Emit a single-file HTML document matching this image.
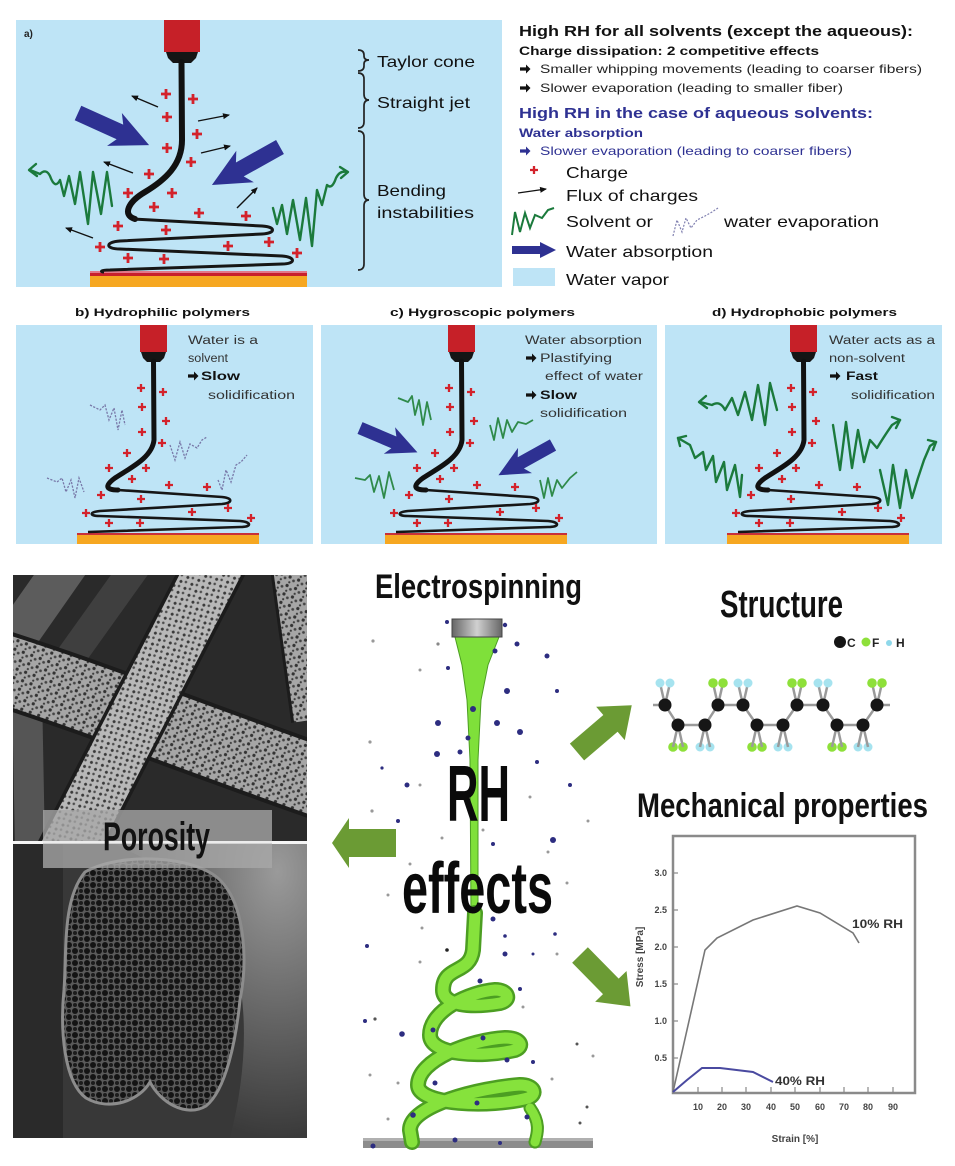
<!DOCTYPE html>
<html><head><meta charset="utf-8"><style>
html,body{margin:0;padding:0;background:#fff;}
svg{display:block;}
text{font-family:"Liberation Sans","DejaVu Sans",sans-serif;}
</style></head><body>
<svg width="955" height="1166" viewBox="0 0 955 1166" xmlns="http://www.w3.org/2000/svg">
<defs>
 <path id="pl" d="M-5,0H5M0,-5V5" stroke="#d3222b" stroke-width="2.8"/>
 <path id="pls" d="M-4,0H4M0,-4V4" stroke="#d3222b" stroke-width="2.3"/>
 <marker id="ah" markerWidth="9" markerHeight="9" refX="6" refY="4" orient="auto" markerUnits="userSpaceOnUse"><path d="M0,1 L7,4 L0,7 Z" fill="#111"/></marker>
 <path id="ra" d="M0,-1.6H6V-4.5L10.5,0L6,4.5V1.6H0Z"/>
 <polygon id="bigarrow" points="0,-8 46,-8 40,-18 78,0 40,18 46,8 0,8" fill="#2e3192"/>
 <polygon id="garrow" points="0,-11 44,-11 44,-22 72,0 44,22 44,11 0,11" fill="#6b9b34"/>
 <pattern id="pores" width="9" height="9" patternUnits="userSpaceOnUse" patternTransform="rotate(20)">
  <rect width="9" height="9" fill="#a6a6a6"/>
  <circle cx="2" cy="2" r="1.6" fill="#333"/>
  <circle cx="6.5" cy="4.5" r="1.4" fill="#444"/>
  <circle cx="3" cy="7.2" r="1.1" fill="#3a3a3a"/>
 </pattern>
 <pattern id="pores2" width="8" height="8" patternUnits="userSpaceOnUse" patternTransform="rotate(-30)">
  <rect width="8" height="8" fill="#b8b8b8"/>
  <circle cx="2" cy="2" r="1.5" fill="#3a3a3a"/>
  <circle cx="6" cy="5" r="1.3" fill="#4c4c4c"/>
 </pattern>
 <pattern id="mesh" width="12" height="12" patternUnits="userSpaceOnUse">
  <rect width="12" height="12" fill="#5a5a5a"/>
  <circle cx="3" cy="3" r="3" fill="#141414"/>
  <circle cx="9" cy="9" r="3" fill="#141414"/>
  <circle cx="9" cy="3" r="2" fill="#1c1c1c"/>
  <circle cx="3" cy="9" r="2" fill="#1c1c1c"/>
 </pattern>
 <linearGradient id="noz" x1="0" x2="1" y1="0" y2="0">
  <stop offset="0" stop-color="#666"/><stop offset=".5" stop-color="#d0d0d0"/><stop offset="1" stop-color="#666"/>
 </linearGradient>
 <radialGradient id="body" cx="0.85" cy="0.1" r="0.9">
  <stop offset="0" stop-color="#9a9a9a"/><stop offset=".5" stop-color="#6a6a6a"/><stop offset="1" stop-color="#3a3a3a"/>
 </radialGradient>
 <clipPath id="semT"><rect x="13" y="575" width="294" height="267"/></clipPath>
 <clipPath id="semB"><rect x="13" y="842" width="294" height="296"/></clipPath>
</defs>

<rect width="955" height="1166" fill="#fff"/>

<!-- ================= PANEL A ================= -->
<rect x="16" y="20" width="486" height="267" fill="#bee4f6"/>
<text x="24" y="37" font-size="10" font-weight="bold" fill="#222">a)</text>
<rect x="90" y="271" width="217" height="2" fill="#e2788a"/>
<rect x="90" y="273" width="217" height="3" fill="#c8202c"/>
<rect x="90" y="276" width="217" height="11" fill="#f6a721"/>
<rect x="164" y="20" width="36" height="32" fill="#c62028"/>
<polygon points="166,52 198,52 196,58 191,63 173,63 168,58" fill="#151515"/>
<path d="M181.5,62 L182,140 C182,165 165,180 145,192 C128,202 122,215 135,219" stroke="#111" stroke-width="6" fill="none" stroke-linecap="round"/>
<path d="M133,219 L262,226 C276,227 276,233 262,234 L120,241 C105,242 105,249 120,249 L282,256 C296,257 296,264 282,264 L110,270 C100,270 100,272 104,272" stroke="#161616" stroke-width="3" fill="none"/>
<g>
<use href="#pl" x="166" y="94"/><use href="#pl" x="193" y="99"/><use href="#pl" x="167" y="117"/>
<use href="#pl" x="197" y="134"/><use href="#pl" x="167" y="148"/><use href="#pl" x="191" y="162"/>
<use href="#pl" x="149" y="174"/><use href="#pl" x="172" y="193"/><use href="#pl" x="128" y="193"/>
<use href="#pl" x="154" y="207"/><use href="#pl" x="199" y="213"/><use href="#pl" x="246" y="216"/>
<use href="#pl" x="118" y="226"/><use href="#pl" x="166" y="230"/><use href="#pl" x="269" y="242"/>
<use href="#pl" x="228" y="246"/><use href="#pl" x="100" y="247"/><use href="#pl" x="128" y="258"/>
<use href="#pl" x="164" y="259"/><use href="#pl" x="297" y="253"/>
</g>
<g stroke="#111" stroke-width="1.4" marker-end="url(#ah)">
<line x1="158" y1="107" x2="132" y2="96"/>
<line x1="198" y1="121" x2="229" y2="115"/>
<line x1="201" y1="153" x2="230" y2="146"/>
<line x1="133" y1="173" x2="104" y2="162"/>
<line x1="237" y1="208" x2="257" y2="188"/>
<line x1="93" y1="238" x2="66" y2="228"/>
</g>
<use href="#bigarrow" transform="translate(78,113) rotate(24.3)"/>
<use href="#bigarrow" transform="translate(280,147) rotate(150.8)"/>
<g stroke="#1b7a3c" stroke-width="2.4" fill="none" stroke-linejoin="round" stroke-linecap="round">
<path d="M30,170 L40,174 Q46,168 50,176 Q55,190 60,180 L64,196 L69,176 L75,204 L80,172 L88,224 L93,172 L101,214 L107,172 L112,206"/>
<path d="M36,164 L29,170 L37,176"/>
<path d="M347,172 Q340,170 336,178 Q332,190 327,185 L322,205 L317,190 L312,246 L306,198 L300,240 L293,200 L287,234 L282,205 L277,224 L273,208"/>
<path d="M340,167 L348,172 L341,178"/>
</g>
<g stroke="#222" stroke-width="1.7" fill="none">
<path d="M358,50 Q364,50 364,55 L364,56 Q364,60 369,60 Q364,60 364,64 L364,66 Q364,71 358,71"/>
<path d="M358,73 Q364,73 364,79 L364,94 Q364,100 369,100 Q364,100 364,106 L364,122 Q364,128 358,128"/>
<path d="M358,131 Q364,131 364,137 L364,194 Q364,200 369,200 Q364,200 364,206 L364,264 Q364,270 358,270"/>
</g>
<g font-size="16" fill="#111">
<text x="377" y="67" textLength="98" lengthAdjust="spacingAndGlyphs">Taylor cone</text>
<text x="377" y="108" textLength="93" lengthAdjust="spacingAndGlyphs">Straight jet</text>
<text x="377" y="196" textLength="69" lengthAdjust="spacingAndGlyphs">Bending</text>
<text x="377" y="218" textLength="97" lengthAdjust="spacingAndGlyphs">instabilities</text>
</g>

<!-- ================= TOP RIGHT TEXT ================= -->
<text x="519" y="36" font-size="15" font-weight="bold" fill="#111" textLength="394" lengthAdjust="spacingAndGlyphs">High RH for all solvents (except the aqueous):</text>
<text x="519" y="55" font-size="12" font-weight="bold" fill="#111" textLength="300" lengthAdjust="spacingAndGlyphs">Charge dissipation: 2 competitive effects</text>
<use href="#ra" transform="translate(520,69)" fill="#111"/>
<text x="540" y="73" font-size="12" fill="#222" textLength="382" lengthAdjust="spacingAndGlyphs">Smaller whipping movements (leading to coarser fibers)</text>
<use href="#ra" transform="translate(520,88)" fill="#111"/>
<text x="540" y="92" font-size="12" fill="#222" textLength="303" lengthAdjust="spacingAndGlyphs">Slower evaporation (leading to smaller fiber)</text>
<text x="519" y="118" font-size="15" font-weight="bold" fill="#2e3192" textLength="354" lengthAdjust="spacingAndGlyphs">High RH in the case of aqueous solvents:</text>
<text x="519" y="137" font-size="12" font-weight="bold" fill="#2e3192" textLength="124" lengthAdjust="spacingAndGlyphs">Water absorption</text>
<use href="#ra" transform="translate(520,151)" fill="#2e3192"/>
<text x="540" y="155" font-size="12" fill="#2e3192" textLength="312" lengthAdjust="spacingAndGlyphs">Slower evaporation (leading to coarser fibers)</text>
<use href="#pls" x="534" y="170"/>
<line x1="518" y1="193" x2="546" y2="189" stroke="#111" stroke-width="1.3" marker-end="url(#ah)"/>
<path d="M512,235 L515,212 L520,232 L525,213 L530,228 L535,215 L542,218 L548,210 L554,208" stroke="#1b7a3c" stroke-width="2" fill="none"/>
<path d="M673,236 L677,220 L682,232 L686,218 L691,228 L697,220 L705,216 L712,212 L718,208" stroke="#8080b0" stroke-width="1.2" stroke-dasharray="2 1.5" fill="none"/>
<polygon points="512,246 540,246 540,242 556,250 540,258 540,254 512,254" fill="#2e3192"/>
<rect x="513" y="268" width="42" height="18" fill="#bee4f6"/>
<g font-size="16" fill="#111">
<text x="566" y="178" textLength="62" lengthAdjust="spacingAndGlyphs">Charge</text>
<text x="566" y="201" textLength="132" lengthAdjust="spacingAndGlyphs">Flux of charges</text>
<text x="566" y="227" textLength="87" lengthAdjust="spacingAndGlyphs">Solvent or</text>
<text x="724" y="227" textLength="155" lengthAdjust="spacingAndGlyphs">water evaporation</text>
<text x="566" y="257" textLength="147" lengthAdjust="spacingAndGlyphs">Water absorption</text>
<text x="566" y="285" textLength="103" lengthAdjust="spacingAndGlyphs">Water vapor</text>
</g>

<!-- ================= PANELS B C D ================= -->
<g font-size="11" font-weight="bold" fill="#111">
<text x="75" y="316" textLength="175" lengthAdjust="spacingAndGlyphs">b) Hydrophilic polymers</text>
<text x="390" y="316" textLength="185" lengthAdjust="spacingAndGlyphs">c) Hygroscopic polymers</text>
<text x="712" y="316" textLength="185" lengthAdjust="spacingAndGlyphs">d) Hydrophobic polymers</text>
</g>
<rect x="16" y="325" width="297" height="219" fill="#bee4f6"/>
<rect x="321" y="325" width="336" height="219" fill="#bee4f6"/>
<rect x="665" y="325" width="277" height="219" fill="#bee4f6"/>

<g id="jetb">
<rect x="77" y="533" width="182" height="2" fill="#c8303a"/>
<rect x="77" y="535" width="182" height="9" fill="#f6a721"/>
<rect x="140" y="325" width="27" height="27" fill="#c62028"/>
<polygon points="141,352 166,352 164,358 160,362 147,362 143,358" fill="#151515"/>
<path d="M153.5,361 L154,440 C152,458 130,468 115,478 C104,486 106,490 118,490" stroke="#111" stroke-width="5" fill="none" stroke-linecap="round"/>
<path d="M118,490 L222,497 C233,498 233,503 222,504 L100,511 C89,512 89,516 100,516 L240,521 C252,522 252,527 240,527 L88,532" stroke="#161616" stroke-width="2.6" fill="none"/>
<use href="#pls" x="141" y="388"/><use href="#pls" x="163" y="392"/><use href="#pls" x="142" y="407"/>
<use href="#pls" x="166" y="421"/><use href="#pls" x="142" y="432"/><use href="#pls" x="162" y="443"/>
<use href="#pls" x="127" y="453"/><use href="#pls" x="109" y="468"/><use href="#pls" x="146" y="468"/>
<use href="#pls" x="132" y="479"/><use href="#pls" x="169" y="485"/><use href="#pls" x="207" y="487"/>
<use href="#pls" x="101" y="495"/><use href="#pls" x="141" y="499"/><use href="#pls" x="228" y="508"/>
<use href="#pls" x="192" y="512"/><use href="#pls" x="86" y="513"/><use href="#pls" x="109" y="523"/>
<use href="#pls" x="140" y="523"/><use href="#pls" x="251" y="518"/>
</g>
<use href="#jetb" transform="translate(308,0)"/>
<use href="#jetb" transform="translate(650,0)"/>

<g stroke="#7878a8" stroke-width="1.3" fill="none" stroke-dasharray="2.2 1.4">
<path d="M90,405 L100,410 L105,405 L109,420 L114,408 L118,430 L122,410 L125,425"/>
<path d="M170,445 L175,460 L180,442 L185,458 L190,444 L197,448 L202,440 L207,437"/>
<path d="M47,478 L57,482 L62,478 L66,492 L71,480 L75,498 L79,478 L84,492"/>
<path d="M218,480 L222,490 L226,470 L231,482 L236,465 L241,462 L247,455"/>
</g>
<g fill="#111">
<g font-size="11.5" fill="#333">
<text x="188" y="344" textLength="70" lengthAdjust="spacingAndGlyphs">Water is a</text>
<text x="188" y="362" textLength="40" lengthAdjust="spacingAndGlyphs">solvent</text>
<text x="201" y="380" textLength="39" lengthAdjust="spacingAndGlyphs" font-weight="bold" fill="#111">Slow</text>
<text x="208" y="399" textLength="87" lengthAdjust="spacingAndGlyphs">solidification</text>
<text x="525" y="344" textLength="117" lengthAdjust="spacingAndGlyphs">Water absorption</text>
<text x="540" y="362" textLength="72" lengthAdjust="spacingAndGlyphs">Plastifying</text>
<text x="545" y="380" textLength="98" lengthAdjust="spacingAndGlyphs">effect of water</text>
<text x="540" y="399" textLength="37" lengthAdjust="spacingAndGlyphs" font-weight="bold" fill="#111">Slow</text>
<text x="540" y="417" textLength="87" lengthAdjust="spacingAndGlyphs">solidification</text>
<text x="829" y="344" textLength="106" lengthAdjust="spacingAndGlyphs">Water acts as a</text>
<text x="829" y="362" textLength="76" lengthAdjust="spacingAndGlyphs">non-solvent</text>
<text x="846" y="380" textLength="32" lengthAdjust="spacingAndGlyphs" font-weight="bold" fill="#111">Fast</text>
<text x="851" y="399" textLength="84" lengthAdjust="spacingAndGlyphs">solidification</text>
</g>
<use href="#ra" transform="translate(188,376)"/>
<use href="#ra" transform="translate(526,358)"/>
<use href="#ra" transform="translate(526,395)"/>
<use href="#ra" transform="translate(830,376)"/>
</g>
<use href="#bigarrow" transform="translate(360,428) rotate(23) scale(.8)"/>
<use href="#bigarrow" transform="translate(553,445) rotate(151) scale(.8)"/>
<g stroke="#2f8a4a" stroke-width="1.8" fill="none" stroke-linejoin="round">
<path d="M398,398 L408,402 L412,396 L415,415 L419,400 L423,425 L427,402 L431,420"/>
<path d="M355,478 L365,480 L370,475 L374,492 L379,476 L384,498 L389,472 L394,490"/>
<path d="M490,425 L494,440 L498,418 L503,438 L507,420 L512,432 L518,422 L526,424 L533,420"/>
<path d="M540,480 L544,498 L548,478 L552,496 L557,480 L562,488 L570,478 L577,472"/>
</g>
<g stroke="#1b7a3c" stroke-width="2.4" fill="none" stroke-linejoin="round" stroke-linecap="round">
<path d="M700,402 L712,405 Q720,400 725,410 L732,398 L738,415 L745,392 L752,420 L758,385 L765,425 L770,383 L777,410"/>
<path d="M706,396 L699,402 L707,408"/>
<path d="M678,438 L690,445 L695,458 L703,452 L706,470 L713,456 L716,482 L724,462 L727,490 L735,465 L740,497 L742,475"/>
<path d="M680,446 L678,438 L686,436"/>
<path d="M833,425 L840,470 L846,422 L852,468 L858,430 L864,462 L870,440 L877,448 Q885,435 892,425 L900,420"/>
<path d="M892,417 L900,420 L896,428"/>
<path d="M880,470 L888,505 L893,465 L900,508 L906,470 L912,498 L918,478 L924,460 L930,446 L936,442"/>
<path d="M928,440 L936,442 L933,450"/>
</g>

<!-- ================= SEM IMAGE ================= -->
<g clip-path="url(#semT)">
<rect x="13" y="575" width="294" height="267" fill="#2a2a2a"/>
<path d="M70,560 L0,660" stroke="#5c5c5c" stroke-width="42" fill="none"/>
<path d="M140,560 L40,700" stroke="#3f3f3f" stroke-width="30" fill="none"/>
<path d="M27,690 L30,850" stroke="#555" stroke-width="30" fill="none"/>
<path d="M290,560 L312,720" stroke="#1c1c1c" stroke-width="42" fill="none"/>
<path d="M290,560 L312,720" stroke="url(#pores)" stroke-width="36" fill="none"/>
<path d="M0,668 C100,700 200,740 320,782" stroke="#1c1c1c" stroke-width="76" fill="none"/>
<path d="M0,668 C100,700 200,740 320,782" stroke="url(#pores)" stroke-width="68" fill="none"/>
<path d="M218,560 L58,870" stroke="#1c1c1c" stroke-width="62" fill="none"/>
<path d="M218,560 L58,870" stroke="url(#pores2)" stroke-width="55" fill="none"/>
</g>
<g clip-path="url(#semB)">
<rect x="13" y="842" width="294" height="296" fill="#383838"/>
<rect x="13" y="842" width="50" height="296" fill="#2a2a2a"/>
<path d="M110,842 L307,842 L307,1138 L230,1138 C250,1060 250,980 220,920 C190,880 150,860 110,842Z" fill="url(#body)"/>
<path d="M85,872 C120,852 195,855 220,880 C245,905 248,960 240,1000 C236,1040 226,1090 206,1106 C186,1118 160,1102 150,1082 C140,1100 110,1112 86,1098 C64,1082 60,1030 64,990 C67,950 62,900 85,872Z" fill="url(#mesh)" stroke="#8c8c8c" stroke-width="3"/>
</g>
<rect x="13" y="841" width="294" height="3" fill="#f4f4f4"/>
<rect x="43" y="810" width="229" height="58" fill="#a8a8a8" fill-opacity="0.78"/>
<rect x="13" y="841" width="294" height="2.5" fill="#f4f4f4" fill-opacity="0.85"/>
<text x="103" y="850" font-size="40" font-weight="bold" fill="#111" textLength="107" lengthAdjust="spacingAndGlyphs">Porosity</text>

<!-- ================= CENTER ELECTROSPINNING ================= -->
<text x="375" y="598" font-size="34" font-weight="bold" fill="#111" textLength="207" lengthAdjust="spacingAndGlyphs">Electrospinning</text>
<rect x="363" y="1138" width="230" height="10" fill="#8c8c8c"/>
<rect x="363" y="1138" width="230" height="3" fill="#b0b0b0"/>
<polygon points="455,637 499,637 488,665 481,700 478,760 478,915 471,915 470,760 467,700 462,665" fill="#7fe03a" stroke="#4c9e22" stroke-width="1"/>
<rect x="452" y="619" width="50" height="18" fill="url(#noz)" stroke="#444" stroke-width="1"/>
<g fill="none" stroke-linecap="round" stroke-linejoin="round">
<path d="M475,913 L473,950 C470,975 443,965 443,990 C443,1005 470,1008 500,1003 C512,1000 508,990 495,990 C470,992 430,1010 430,1035 C430,1055 480,1058 515,1050 C525,1046 520,1038 505,1038 C470,1040 418,1060 418,1085 C418,1105 490,1108 528,1098 C538,1094 534,1085 520,1085 C480,1088 410,1105 410,1130 L412,1142" stroke="#4c9e22" stroke-width="16"/>
<path d="M530,1108 C540,1122 538,1132 535,1142" stroke="#4c9e22" stroke-width="13"/>
<path d="M475,913 L473,950 C470,975 443,965 443,990 C443,1005 470,1008 500,1003 C512,1000 508,990 495,990 C470,992 430,1010 430,1035 C430,1055 480,1058 515,1050 C525,1046 520,1038 505,1038 C470,1040 418,1060 418,1085 C418,1105 490,1108 528,1098 C538,1094 534,1085 520,1085 C480,1088 410,1105 410,1130 L412,1142" stroke="#86e23c" stroke-width="11"/>
<path d="M530,1108 C540,1122 538,1132 535,1142" stroke="#86e23c" stroke-width="9"/>
</g>
<g fill="#2d2d80">
<circle cx="373" cy="641" r="1.6" fill="#999"/><circle cx="447" cy="622" r="2"/><circle cx="505" cy="625" r="2.2"/>
<circle cx="517" cy="644" r="2.5"/><circle cx="547" cy="656" r="2.5"/><circle cx="438" cy="644" r="1.6" fill="#888"/>
<circle cx="420" cy="670" r="1.5" fill="#999"/><circle cx="448" cy="668" r="2"/><circle cx="495" cy="651" r="2.5"/>
<circle cx="557" cy="691" r="2"/><circle cx="507" cy="691" r="3"/><circle cx="473" cy="709" r="3"/>
<circle cx="438" cy="723" r="3"/><circle cx="497" cy="723" r="3"/><circle cx="520" cy="732" r="3"/>
<circle cx="468" cy="738" r="2.5"/><circle cx="437" cy="754" r="3"/><circle cx="460" cy="752" r="2.5"/>
<circle cx="370" cy="742" r="1.6" fill="#999"/><circle cx="382" cy="768" r="1.6"/><circle cx="407" cy="785" r="2.5"/>
<circle cx="420" cy="785" r="1.5" fill="#999"/><circle cx="537" cy="762" r="2"/><circle cx="570" cy="785" r="2"/>
<circle cx="530" cy="797" r="1.5" fill="#999"/><circle cx="372" cy="811" r="1.6" fill="#999"/><circle cx="398" cy="821" r="2"/>
<circle cx="588" cy="821" r="1.5" fill="#999"/><circle cx="553" cy="840" r="3"/><circle cx="442" cy="838" r="1.5" fill="#999"/>
<circle cx="493" cy="844" r="2"/><circle cx="483" cy="830" r="1.5" fill="#999"/><circle cx="410" cy="864" r="1.5" fill="#999"/>
<circle cx="548" cy="852" r="1.5" fill="#999"/><circle cx="567" cy="883" r="1.5" fill="#999"/><circle cx="388" cy="895" r="1.5" fill="#999"/>
<circle cx="493" cy="919" r="2.5"/><circle cx="505" cy="936" r="1.8"/><circle cx="555" cy="934" r="1.8"/>
<circle cx="422" cy="928" r="1.5" fill="#999"/><circle cx="367" cy="946" r="2"/><circle cx="420" cy="962" r="1.5" fill="#999"/>
<circle cx="447" cy="950" r="1.8" fill="#222"/><circle cx="505" cy="954" r="2.5"/><circle cx="533" cy="954" r="1.5"/>
<circle cx="557" cy="954" r="1.5" fill="#999"/><circle cx="480" cy="981" r="2.5"/><circle cx="520" cy="989" r="2"/>
<circle cx="365" cy="1021" r="2"/><circle cx="375" cy="1019" r="1.6" fill="#555"/><circle cx="402" cy="1034" r="2.8"/>
<circle cx="433" cy="1030" r="2.5"/><circle cx="483" cy="1038" r="2.5"/><circle cx="523" cy="1007" r="1.5" fill="#999"/>
<circle cx="533" cy="1062" r="2"/><circle cx="577" cy="1044" r="1.5" fill="#555"/><circle cx="593" cy="1056" r="1.5" fill="#999"/>
<circle cx="370" cy="1075" r="1.5" fill="#999"/><circle cx="398" cy="1083" r="1.5" fill="#999"/><circle cx="435" cy="1083" r="2.5"/>
<circle cx="507" cy="1060" r="2.5"/><circle cx="552" cy="1079" r="1.5" fill="#999"/><circle cx="587" cy="1107" r="1.5" fill="#555"/>
<circle cx="580" cy="1123" r="1.5" fill="#555"/><circle cx="388" cy="1119" r="1.5" fill="#999"/><circle cx="413" cy="1115" r="2.8"/>
<circle cx="477" cy="1103" r="2.5"/><circle cx="527" cy="1117" r="2.5"/><circle cx="373" cy="1146" r="2.5"/>
<circle cx="455" cy="1140" r="2.5"/><circle cx="500" cy="1143" r="2"/>
</g>
<text x="447" y="821" font-size="80" font-weight="bold" fill="#0a0a0a" textLength="63" lengthAdjust="spacingAndGlyphs">RH</text>
<text x="402" y="913" font-size="72" font-weight="bold" fill="#0a0a0a" textLength="151" lengthAdjust="spacingAndGlyphs">effects</text>
<polygon points="332,843 349,818 349,829 396,829 396,857 349,857 349,868" fill="#6b9b34"/>
<use href="#garrow" transform="translate(577,752) rotate(-40.5)"/>
<use href="#garrow" transform="translate(580,955) rotate(45.5)"/>

<!-- ================= STRUCTURE ================= -->
<text x="720" y="617" font-size="38" font-weight="bold" fill="#111" textLength="123" lengthAdjust="spacingAndGlyphs">Structure</text>
<circle cx="840" cy="642" r="6" fill="#151515"/>
<text x="847" y="647" font-size="12" font-weight="bold" fill="#222">C</text>
<circle cx="866" cy="642" r="4.5" fill="#8ee03a"/>
<text x="872" y="647" font-size="12" font-weight="bold" fill="#222">F</text>
<circle cx="889" cy="643" r="3" fill="#8fd8ea"/>
<text x="896" y="647" font-size="12" font-weight="bold" fill="#222">H</text>
<g stroke="#9a9a9a" stroke-width="2.5" fill="none">
<polyline points="653,705 665,705 678,725 705,725 718,705 743,705 757,725 783,725 797,705 823,705 837,725 863,725 877,705 890,705"/>
<line x1="660" y1="683" x2="665" y2="705"/><line x1="670" y1="683" x2="665" y2="705"/>
<line x1="713" y1="683" x2="718" y2="705"/><line x1="723" y1="683" x2="718" y2="705"/>
<line x1="738" y1="683" x2="743" y2="705"/><line x1="748" y1="683" x2="743" y2="705"/>
<line x1="792" y1="683" x2="797" y2="705"/><line x1="802" y1="683" x2="797" y2="705"/>
<line x1="818" y1="683" x2="823" y2="705"/><line x1="828" y1="683" x2="823" y2="705"/>
<line x1="872" y1="683" x2="877" y2="705"/><line x1="882" y1="683" x2="877" y2="705"/>
</g>
<g>
<circle cx="660" cy="683" r="4.5" fill="#a6e3ef"/><circle cx="670" cy="683" r="4.5" fill="#a6e3ef"/>
<circle cx="713" cy="683" r="4.8" fill="#8ee03a"/><circle cx="723" cy="683" r="4.8" fill="#8ee03a"/>
<circle cx="738" cy="683" r="4.5" fill="#a6e3ef"/><circle cx="748" cy="683" r="4.5" fill="#a6e3ef"/>
<circle cx="792" cy="683" r="4.8" fill="#8ee03a"/><circle cx="802" cy="683" r="4.8" fill="#8ee03a"/>
<circle cx="818" cy="683" r="4.5" fill="#a6e3ef"/><circle cx="828" cy="683" r="4.5" fill="#a6e3ef"/>
<circle cx="872" cy="683" r="4.8" fill="#8ee03a"/><circle cx="882" cy="683" r="4.8" fill="#8ee03a"/>
<circle cx="673" cy="747" r="4.8" fill="#8ee03a"/><circle cx="683" cy="747" r="4.8" fill="#8ee03a"/>
<circle cx="700" cy="747" r="4.5" fill="#a6e3ef"/><circle cx="710" cy="747" r="4.5" fill="#a6e3ef"/>
<circle cx="752" cy="747" r="4.8" fill="#8ee03a"/><circle cx="762" cy="747" r="4.8" fill="#8ee03a"/>
<circle cx="778" cy="747" r="4.5" fill="#a6e3ef"/><circle cx="788" cy="747" r="4.5" fill="#a6e3ef"/>
<circle cx="832" cy="747" r="4.8" fill="#8ee03a"/><circle cx="842" cy="747" r="4.8" fill="#8ee03a"/>
<circle cx="858" cy="747" r="4.5" fill="#a6e3ef"/><circle cx="868" cy="747" r="4.5" fill="#a6e3ef"/>
</g>
<g stroke="#9a9a9a" stroke-width="2.5">
<line x1="678" y1="725" x2="673" y2="747"/><line x1="678" y1="725" x2="683" y2="747"/>
<line x1="705" y1="725" x2="700" y2="747"/><line x1="705" y1="725" x2="710" y2="747"/>
<line x1="757" y1="725" x2="752" y2="747"/><line x1="757" y1="725" x2="762" y2="747"/>
<line x1="783" y1="725" x2="778" y2="747"/><line x1="783" y1="725" x2="788" y2="747"/>
<line x1="837" y1="725" x2="832" y2="747"/><line x1="837" y1="725" x2="842" y2="747"/>
<line x1="863" y1="725" x2="858" y2="747"/><line x1="863" y1="725" x2="868" y2="747"/>
</g>
<g fill="#161616">
<circle cx="665" cy="705" r="6.5"/><circle cx="718" cy="705" r="6.5"/><circle cx="743" cy="705" r="6.5"/>
<circle cx="797" cy="705" r="6.5"/><circle cx="823" cy="705" r="6.5"/><circle cx="877" cy="705" r="6.5"/>
<circle cx="678" cy="725" r="6.5"/><circle cx="705" cy="725" r="6.5"/><circle cx="757" cy="725" r="6.5"/>
<circle cx="783" cy="725" r="6.5"/><circle cx="837" cy="725" r="6.5"/><circle cx="863" cy="725" r="6.5"/>
</g>

<!-- ================= MECHANICAL PROPERTIES ================= -->
<text x="637" y="817" font-size="34" font-weight="bold" fill="#111" textLength="291" lengthAdjust="spacingAndGlyphs">Mechanical properties</text>
<rect x="673" y="836" width="242" height="257" fill="#fff" stroke="#8a8a8a" stroke-width="2.5"/>
<g stroke="#888" stroke-width="1.2">
<line x1="673" y1="873" x2="678" y2="873"/><line x1="673" y1="910" x2="678" y2="910"/>
<line x1="673" y1="947" x2="678" y2="947"/><line x1="673" y1="984" x2="678" y2="984"/>
<line x1="673" y1="1021" x2="678" y2="1021"/><line x1="673" y1="1058" x2="678" y2="1058"/>
<line x1="698" y1="1093" x2="698" y2="1087"/><line x1="722" y1="1093" x2="722" y2="1087"/>
<line x1="746" y1="1093" x2="746" y2="1087"/><line x1="771" y1="1093" x2="771" y2="1087"/>
<line x1="795" y1="1093" x2="795" y2="1087"/><line x1="820" y1="1093" x2="820" y2="1087"/>
<line x1="844" y1="1093" x2="844" y2="1087"/><line x1="868" y1="1093" x2="868" y2="1087"/>
<line x1="893" y1="1093" x2="893" y2="1087"/>
</g>
<g font-size="9" font-weight="bold" fill="#444" text-anchor="end">
<text x="667" y="876">3.0</text><text x="667" y="913">2.5</text><text x="667" y="950">2.0</text>
<text x="667" y="987">1.5</text><text x="667" y="1024">1.0</text><text x="667" y="1061">0.5</text>
</g>
<g font-size="9" font-weight="bold" fill="#444" text-anchor="middle">
<text x="698" y="1110">10</text><text x="722" y="1110">20</text><text x="746" y="1110">30</text>
<text x="771" y="1110">40</text><text x="795" y="1110">50</text><text x="820" y="1110">60</text>
<text x="844" y="1110">70</text><text x="868" y="1110">80</text><text x="893" y="1110">90</text>
</g>
<text x="795" y="1142" font-size="10" font-weight="bold" fill="#444" text-anchor="middle">Strain [%]</text>
<text transform="translate(643,957) rotate(-90)" font-size="10" font-weight="bold" fill="#444" text-anchor="middle">Stress [MPa]</text>
<polyline points="673,1092 705,950 717,938 753,920 797,906 820,913 853,933 859,943" fill="none" stroke="#777" stroke-width="1.6"/>
<polyline points="673,1092 687,1080 702,1068 720,1068 753,1072 773,1082" fill="none" stroke="#4a4aa0" stroke-width="2"/>
<text x="852" y="928" font-size="12" font-weight="bold" fill="#333" textLength="51" lengthAdjust="spacingAndGlyphs">10% RH</text>
<text x="775" y="1085" font-size="12" font-weight="bold" fill="#333" textLength="50" lengthAdjust="spacingAndGlyphs">40% RH</text>
</svg>
</body></html>
